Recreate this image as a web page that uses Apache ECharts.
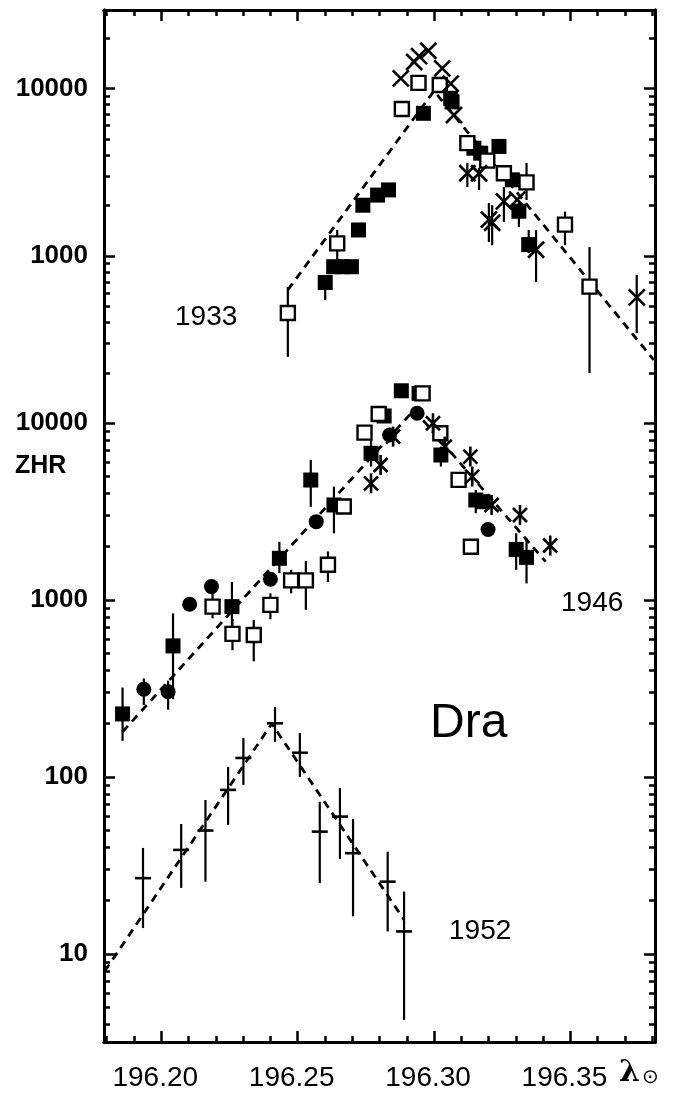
<!DOCTYPE html>
<html><head><meta charset="utf-8">
<script src="https://cdn.jsdelivr.net/npm/echarts@6/dist/echarts.min.js"></script>
<style>html,body{margin:0;padding:0;background:#fff}#c{width:674px;height:1093px}</style>
</head><body><div id="c"></div>
<script>
// ---------- axis tick values ----------
const xMajorTicks = [196.20, 196.25, 196.30, 196.35];
const xMinorTicks = [196.18, 196.19, 196.21, 196.22, 196.23, 196.24, 196.26, 196.27, 196.28, 196.29,
  196.31, 196.32, 196.33, 196.34, 196.36, 196.37, 196.38];
const topMajorTicks = [1000, 10000];
const topMinorTicks = [200, 300, 400, 500, 600, 700, 800, 900, 2000, 3000, 4000, 5000, 6000, 7000, 8000, 9000, 20000];
const botMajorTicks = [10, 100, 1000, 10000];
const botMinorTicks = [4, 5, 6, 7, 8, 9, 20, 30, 40, 50, 60, 70, 80, 90, 200, 300, 400, 500, 600, 700, 800, 900,
  2000, 3000, 4000, 5000, 6000, 7000, 8000, 9000];

// ---------- 1933 ----------
const y33Open = [[196.2464, 457], [196.2645, 1190], [196.2882, 7550], [196.2943, 10800], [196.3021, 10500],
  [196.3122, 4720], [196.3195, 3710], [196.3256, 3120], [196.3339, 2750], [196.3480, 1540], [196.3570, 656]];
const y33Filled = [[196.2601, 695], [196.2632, 863], [196.2666, 863], [196.2697, 863], [196.2723, 1430],
  [196.2739, 2010], [196.2793, 2310], [196.2833, 2480], [196.2961, 7110], [196.3061, 8740], [196.3066, 8320],
  [196.3146, 4400], [196.3171, 4110], [196.3238, 4510], [196.3287, 2850], [196.3311, 1850], [196.3347, 1170]];
const y33Crosses = [[196.2878, 11500], [196.2927, 14400], [196.2945, 15600], [196.2979, 16800], [196.3030, 13200],
  [196.3061, 10700], [196.3073, 6950], [196.3122, 3120], [196.3165, 3120], [196.3201, 1650], [196.3213, 1580],
  [196.3256, 2120], [196.3305, 2170], [196.3374, 1090], [196.3743, 566]];
const y33Bars = [[196.2464, 250, 653], [196.2645, 946, 1430], [196.2601, 546, 695], [196.3122, 2580, 3590],
  [196.3165, 2480, 3360], [196.3201, 1210, 2070], [196.3213, 1160, 2010], [196.3256, 1600, 2580],
  [196.3311, 1490, 2160], [196.3339, 2160, 3590], [196.3347, 1040, 1430], [196.3374, 700, 1430],
  [196.3480, 1160, 1840], [196.3570, 200, 1130], [196.3743, 347, 771]];
const y33Fit = [[196.2464, 627], [196.3000, 9670], [196.3805, 240]];

// ---------- 1946 ----------
const y46Filled = [[196.1858, 227], [196.2043, 550], [196.2259, 917], [196.2433, 1720], [196.2548, 4760],
  [196.2633, 3440], [196.2769, 6740], [196.2817, 10950], [196.2880, 15200], [196.2945, 14700], [196.3025, 6590],
  [196.3153, 3670], [196.3179, 3590], [196.3301, 1930], [196.3339, 1740]];
const y46Open = [[196.2188, 917], [196.2261, 643], [196.2339, 634], [196.2400, 938], [196.2476, 1290],
  [196.2530, 1290], [196.2611, 1580], [196.2669, 3370], [196.2745, 8820], [196.2797, 11240], [196.2958, 14700],
  [196.3023, 8740], [196.3090, 4770], [196.3135, 2000]];
const y46Circles = [[196.1936, 313], [196.2025, 303], [196.2104, 946], [196.2184, 1190], [196.2400, 1310],
  [196.2568, 2770], [196.2837, 8550], [196.2938, 11350], [196.3198, 2500]];
const y46Stars = [[196.2769, 4560], [196.2804, 5790], [196.2850, 8370], [196.2996, 9960], [196.3039, 7350],
  [196.3133, 6460], [196.3140, 4980], [196.3211, 3440], [196.3315, 3020], [196.3426, 2030]];
const y46Bars = [[196.1858, 160, 320], [196.1936, 255, 360], [196.2025, 240, 350], [196.2043, 275, 840],
  [196.2188, 788, 1090], [196.2259, 594, 1265], [196.2261, 520, 780], [196.2339, 450, 770], [196.2400, 778, 1090],
  [196.2433, 1420, 2130], [196.2476, 1090, 1480], [196.2530, 880, 1660], [196.2548, 3360, 6180],
  [196.2611, 1265, 1880], [196.2633, 2380, 4370], [196.2769, 5670, 8020], [196.3025, 5670, 7350],
  [196.3153, 3090, 4180], [196.3301, 1480, 2380], [196.3339, 1240, 2230]];
const y46Fit = [[196.1858, 180], [196.2927, 11840], [196.3409, 1645]];

// ---------- 1952 ----------
const y52Points = [[196.1933, 26.8], [196.2073, 38.7], [196.2162, 49.8], [196.2245, 84.5], [196.2301, 128],
  [196.2417, 201], [196.2508, 137], [196.2581, 49.1], [196.2655, 59.7], [196.2703, 37.1], [196.2830, 25.6],
  [196.2890, 13.4]];
const y52Bars = [[196.1933, 14.0, 39.7], [196.2073, 23.6, 54.2], [196.2162, 25.6, 74.1], [196.2245, 53.6, 114],
  [196.2301, 90.2, 166], [196.2417, 158, 248], [196.2508, 100, 177], [196.2581, 25.1, 72.4],
  [196.2655, 34.4, 86.7], [196.2703, 16.3, 57.9], [196.2830, 13.4, 37.8], [196.2890, 4.24, 22.5]];
const y52Fit = [[196.1793, 8.0], [196.2405, 200], [196.2890, 15.6]];

// ---------- layout / styles ----------
const X_MIN = 196.179, X_MAX = 196.381;
const TOP_MIN = 186.9, TOP_MAX = 29420;
const BOT_MIN = 3.18, BOT_MAX = 17950;
const INK = '#000';
const FONT = 'Liberation Sans, Arial, sans-serif';

function xAxisDef(grid, pos, major, labels) {
  return {
    type: 'value', gridIndex: grid, position: pos, min: X_MIN, max: X_MAX,
    axisLine: { show: true, onZero: false, lineStyle: { color: INK, width: 3 } },
    axisTick: { show: true, inside: true, length: major ? 11 : 6, customValues: major ? xMajorTicks : xMinorTicks,
      lineStyle: { color: INK, width: 2.5 } },
    axisLabel: { show: labels, customValues: xMajorTicks, formatter: v => v.toFixed(2), color: INK,
      fontSize: 28, fontFamily: FONT, margin: 22, padding: [0, 12, 0, 0] },
    splitLine: { show: false }
  };
}
function yAxisDef(grid, pos, major, labels, mn, mx, majT, minT) {
  return {
    type: 'log', logBase: 10, gridIndex: grid, position: pos, min: mn, max: mx,
    axisLine: { show: true, onZero: false, lineStyle: { color: INK, width: 3 } },
    axisTick: { show: true, inside: true, length: major ? 11 : 6, customValues: major ? majT : minT,
      lineStyle: { color: INK, width: 2.5 } },
    axisLabel: { show: labels, customValues: majT, formatter: v => String(Math.round(v)), color: INK,
      fontSize: 26, fontFamily: FONT, fontWeight: 'bold', margin: 16 },
    splitLine: { show: false }, minorTick: { show: false }
  };
}

function barsRender(params, api) {
  const a = api.coord([api.value(0), api.value(1)]);
  const b = api.coord([api.value(0), api.value(2)]);
  return { type: 'line', shape: { x1: a[0], y1: a[1], x2: b[0], y2: b[1] }, style: { stroke: INK, lineWidth: 2.2 } };
}
function crossRender(params, api) {
  const c = api.coord([api.value(0), api.value(1)]);
  const h = 8;
  return { type: 'group', children: [
    { type: 'line', shape: { x1: c[0] - h, y1: c[1] - h, x2: c[0] + h, y2: c[1] + h }, style: { stroke: INK, lineWidth: 2.6 } },
    { type: 'line', shape: { x1: c[0] - h, y1: c[1] + h, x2: c[0] + h, y2: c[1] - h }, style: { stroke: INK, lineWidth: 2.6 } }
  ] };
}
function starRender(params, api) {
  const c = api.coord([api.value(0), api.value(1)]);
  const h = 7;
  return { type: 'group', children: [
    { type: 'line', shape: { x1: c[0] - h, y1: c[1] - h, x2: c[0] + h, y2: c[1] + h }, style: { stroke: INK, lineWidth: 2.6 } },
    { type: 'line', shape: { x1: c[0] - h, y1: c[1] + h, x2: c[0] + h, y2: c[1] - h }, style: { stroke: INK, lineWidth: 2.6 } },
    { type: 'line', shape: { x1: c[0], y1: c[1] - h - 3, x2: c[0], y2: c[1] + h + 3 }, style: { stroke: INK, lineWidth: 2.6 } }
  ] };
}
function plusRender(params, api) {
  const c = api.coord([api.value(0), api.value(1)]);
  return { type: 'line', shape: { x1: c[0] - 8, y1: c[1], x2: c[0] + 8, y2: c[1] }, style: { stroke: INK, lineWidth: 2.6 } };
}

function custom(xi, yi, data, fn, enc, z) {
  return { type: 'custom', xAxisIndex: xi, yAxisIndex: yi, data: data, renderItem: fn, encode: enc, clip: true, z: z, silent: true };
}
function scatter(xi, yi, data, sym, filled, size) {
  return { type: 'scatter', xAxisIndex: xi, yAxisIndex: yi, data: data, symbol: sym, symbolSize: size, z: 5, silent: true,
    itemStyle: filled ? { color: INK, opacity: 1 } : { color: '#fff', borderColor: INK, borderWidth: 2.4, opacity: 1 } };
}
function fit(xi, yi, data) {
  return { type: 'line', xAxisIndex: xi, yAxisIndex: yi, data: data, symbol: 'none', z: 2, silent: true,
    lineStyle: { color: INK, width: 2.8, type: [8, 6], opacity: 1 }, clip: true };
}

const chart = echarts.init(document.getElementById('c'), null, { renderer: 'canvas' });
chart.setOption({
  animation: false,
  backgroundColor: '#fff',
  grid: [
    { left: 104, right: 19, top: 10, height: 368 },
    { left: 104, right: 19, top: 378, height: 664 }
  ],
  xAxis: [
    xAxisDef(0, 'top', true, false),
    xAxisDef(0, 'top', false, false),
    xAxisDef(1, 'bottom', true, true),
    xAxisDef(1, 'bottom', false, false)
  ],
  yAxis: [
    yAxisDef(0, 'left', true, true, TOP_MIN, TOP_MAX, topMajorTicks, topMinorTicks),
    yAxisDef(0, 'left', false, false, TOP_MIN, TOP_MAX, topMajorTicks, topMinorTicks),
    yAxisDef(0, 'right', true, false, TOP_MIN, TOP_MAX, topMajorTicks, topMinorTicks),
    yAxisDef(0, 'right', false, false, TOP_MIN, TOP_MAX, topMajorTicks, topMinorTicks),
    yAxisDef(1, 'left', true, true, BOT_MIN, BOT_MAX, botMajorTicks, botMinorTicks),
    yAxisDef(1, 'left', false, false, BOT_MIN, BOT_MAX, botMajorTicks, botMinorTicks),
    yAxisDef(1, 'right', true, false, BOT_MIN, BOT_MAX, botMajorTicks, botMinorTicks),
    yAxisDef(1, 'right', false, false, BOT_MIN, BOT_MAX, botMajorTicks, botMinorTicks)
  ],
  series: [
    fit(0, 0, y33Fit),
    custom(0, 0, y33Bars, barsRender, { x: 0, y: [1, 2] }, 3),
    scatter(0, 0, y33Filled, 'rect', true, 15),
    scatter(0, 0, y33Open, 'rect', false, 14),
    custom(0, 0, y33Crosses, crossRender, { x: 0, y: 1 }, 6),

    fit(2, 4, y46Fit),
    custom(2, 4, y46Bars, barsRender, { x: 0, y: [1, 2] }, 3),
    scatter(2, 4, y46Filled, 'rect', true, 15),
    scatter(2, 4, y46Open, 'rect', false, 14),
    scatter(2, 4, y46Circles, 'circle', true, 15),
    custom(2, 4, y46Stars, starRender, { x: 0, y: 1 }, 6),

    fit(2, 4, y52Fit),
    custom(2, 4, y52Bars, barsRender, { x: 0, y: [1, 2] }, 3),
    custom(2, 4, y52Points, plusRender, { x: 0, y: 1 }, 6)
  ],
  graphic: [
    { type: 'text', left: 15, top: 454, style: { text: 'ZHR', font: 'bold 25px ' + FONT, fill: INK } },
    { type: 'text', left: 175, top: 303, style: { text: '1933', font: '28px ' + FONT, fill: INK } },
    { type: 'text', left: 561, top: 589, style: { text: '1946', font: '28px ' + FONT, fill: INK } },
    { type: 'text', left: 449, top: 917, style: { text: '1952', font: '28px ' + FONT, fill: INK } },
    { type: 'text', left: 430, top: 700, style: { text: 'Dra', font: '48px ' + FONT, fill: INK } },
    { type: 'text', left: 619, top: 1058, style: { text: 'λ', font: 'bold 30px DejaVu Serif', fill: INK } },
    { type: 'text', left: 642, top: 1068, style: { text: '⊙', font: '20px DejaVu Sans', fill: INK } }
  ]
});
</script></body></html>
